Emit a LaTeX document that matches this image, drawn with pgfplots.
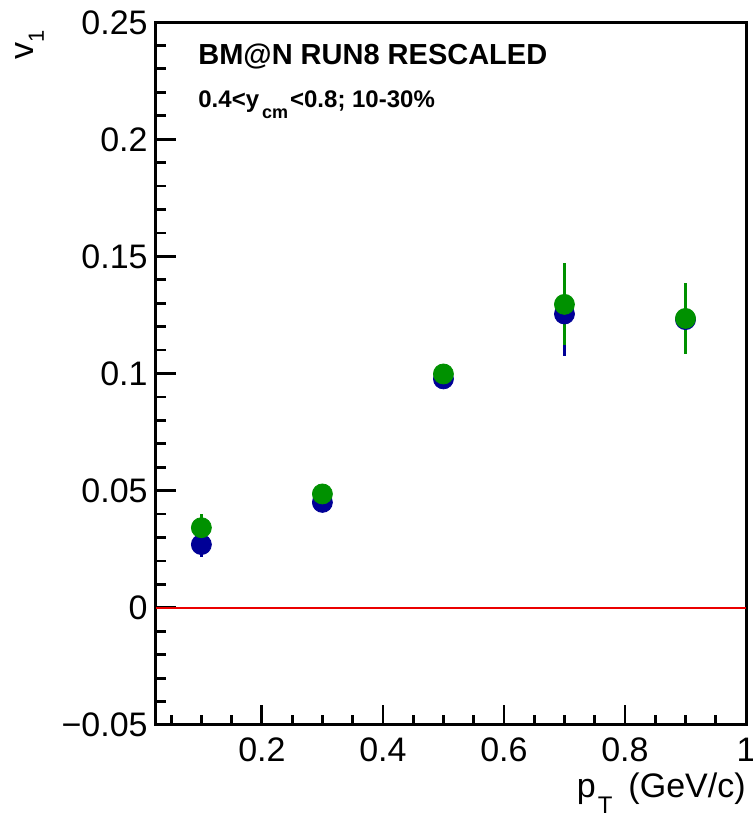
\documentclass[border=0pt]{standalone}
\usepackage{pgfplots}
\pgfplotsset{compat=1.18}
\usepackage{pgfplotstable}
\usepackage{fontspec}
\setmainfont{Liberation Sans}
\definecolor{rblue}{RGB}{0,0,150}
\definecolor{rgreen}{RGB}{0,145,0}
\definecolor{rred}{RGB}{235,0,0}

\pgfplotstableread{
x    y      e
0.1  0.027  0.0053
0.3  0.045  0.0020
0.5  0.0977 0.0020
0.7  0.1254 0.0180
0.9  0.1230 0.0145
}\blueset
\pgfplotstableread{
x    y      e
0.1  0.0342 0.0060
0.3  0.0486 0.0020
0.5  0.0998 0.0020
0.7  0.1295 0.0175
0.9  0.1235 0.0150
}\greenset

\begin{document}
\begin{tikzpicture}
\begin{axis}[
  at={(0,0)}, anchor=south west,
  scale only axis, width=295pt, height=351.5pt,
  xmin=0.025, xmax=1.0, ymin=-0.05, ymax=0.25,
  axis line style={line width=1.5pt},
  xtick={0.2,0.4,0.6,0.8,1}, xticklabels={0.2,0.4,0.6,0.8,1},
  minor xtick={0.05,0.1,0.15,0.25,0.3,0.35,0.45,0.5,0.55,0.65,0.7,0.75,0.85,0.9,0.95},
  ytick={-0.05,0,0.05,0.1,0.15,0.2,0.25},
  yticklabels={−0.05,0,0.05,0.1,0.15,0.2,0.25},
  minor ytick={-0.04,-0.03,-0.02,-0.01,0.01,0.02,0.03,0.04,0.06,0.07,0.08,0.09,0.11,0.12,0.13,0.14,0.16,0.17,0.18,0.19,0.21,0.22,0.23,0.24},
  tick align=inside, xtick pos=left, ytick pos=left,
  major tick length=10pt, minor tick length=5pt,
  every tick/.style={black, line width=1.4pt},
  tick label style={font=\fontsize{17}{17}\selectfont, inner sep=0pt},
  xticklabel style={anchor=base, yshift=-18.5pt},
  yticklabel style={anchor=base east, xshift=-4pt, yshift=-6pt},
  clip=false,
]
\addplot[rred, line width=0.7pt] coordinates {(0.025,0) (1,0)};
\addplot[rblue, only marks, mark=*, mark size=5pt,
  mark options={draw=rblue, fill=rblue},
  error bars/.cd, y dir=both, y explicit,
  error bar style={line width=1.5pt, rblue}, error mark=none]
  table[x=x, y=y, y error=e] {\blueset};
\addplot[rgreen, only marks, mark=*, mark size=5pt,
  mark options={draw=rgreen, fill=rgreen},
  error bars/.cd, y dir=both, y explicit,
  error bar style={line width=1.5pt, rgreen}, error mark=none]
  table[x=x, y=y, y error=e] {\greenset};
\coordinate (TL) at (rel axis cs:0,1);
\coordinate (BR) at (rel axis cs:1,0);
\end{axis}
\node[anchor=base west, inner sep=0pt, font=\bfseries\fontsize{14.5}{14.5}\selectfont]
  at ([xshift=21pt, yshift=-21pt]TL) {BM@N RUN8 RESCALED};
\node[anchor=base west, inner sep=0pt, font=\bfseries\fontsize{12}{12}\selectfont]
  at ([xshift=21pt, yshift=-42.5pt]TL) {0.4<y\hspace{1.5pt}\raisebox{-5.5pt}{\fontsize{9}{9}\selectfont cm}\hspace{1pt}<0.8; 10-30\%};
\node[anchor=base east, inner sep=0pt, font=\fontsize{17}{17}\selectfont]
  at ([yshift=-36pt]BR) {p\hspace{1pt}\raisebox{-8pt}{\fontsize{12}{12}\selectfont T}\hspace{8pt}(GeV/c)};
\path ([xshift=-61pt, yshift=-4pt]TL) node[rotate=90, anchor=base east, inner sep=0pt, font=\fontsize{17}{17}\selectfont]
  {v\raisebox{-5pt}{\fontsize{11}{11}\selectfont 1}};
\pgfresetboundingbox
\path (-78pt,-45.5pt) rectangle (298.5pt,362.5pt);
\end{tikzpicture}
\end{document}
